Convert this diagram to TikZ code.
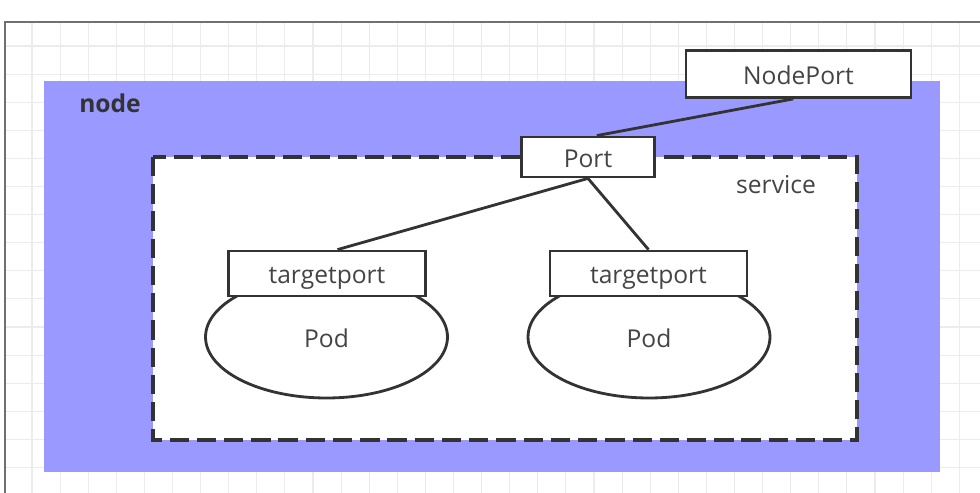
\documentclass[tikz,border=0pt]{standalone}
\usepackage{fontspec}
\setmainfont{Open Sans}
\usetikzlibrary{positioning}
\usetikzlibrary{shapes.geometric}
\definecolor{nodeblue}{HTML}{9999FF}
\definecolor{gridgray}{HTML}{ECECEC}
\definecolor{framegray}{HTML}{707070}
\definecolor{linegray}{HTML}{333333}
\definecolor{textgray}{HTML}{444444}
\tikzset{portbox/.style = {draw=linegray, line width=1.6pt, fill=white,
                           text=textgray, inner sep=0pt,
                           text height=11.5pt, text depth=0pt,
                           font=\fontsize{14}{16}\selectfont},
         podshape/.style = {ellipse, draw=linegray, line width=1.6pt, fill=white,
                            text=textgray, inner sep=0pt,
                            text height=11.5pt, text depth=0pt,
                            minimum width=4.84cm, minimum height=2.44cm,
                            font=\fontsize{14}{16}\selectfont},
         link/.style = {draw=linegray, line width=1.6pt}}

\begin{document}
\begin{tikzpicture}[x=0.02cm, y=-0.02cm]
    \useasboundingbox (0, 0) rectangle (980, 493);
    \foreach \gx in {0,...,33}
      \draw [gridgray, line width=0.6pt] (32 + 28.1*\gx, 22) -- (32 + 28.1*\gx, 493);
    \foreach \gy in {0,...,16}
      \draw [gridgray, line width=0.6pt] (5, 46 + 28.1*\gy) -- (980, 46 + 28.1*\gy);
    \draw [framegray, line width=1.1pt] (5, 493) -- (5, 22) -- (980, 22);

    \fill [nodeblue] (44, 81) rectangle (940, 472);
    \node [text=linegray, font=\fontsize{14}{16}\selectfont\bfseries] (nodelabel) at (110, 103) {node};
    \draw [linegray, fill=white, line width=2.1pt, dash pattern=on 11pt off 4.5pt]
      (153, 157) rectangle (857, 440);
    \node [text=textgray, font=\fontsize{14}{16}\selectfont] (servicelabel) at (776, 185) {service};

    \node [portbox, minimum width=4.5cm, minimum height=0.94cm] (nodeport) at (798.5, 74) {NodePort};
    \node [portbox, minimum width=2.66cm, minimum height=0.8cm] (port) at (588, 157) {Port};

    \node [podshape] (pod1) at (326.5, 337) {Pod};
    \node [podshape] (pod2) at (649, 337) {Pod};
    \node [portbox, minimum width=3.94cm, minimum height=0.9cm] (target1) at (327, 273.5) {targetport};
    \node [portbox, minimum width=3.94cm, minimum height=0.9cm] (target2) at (648.5, 273.5) {targetport};

    \draw [link] ([xshift=-3] nodeport.south) -- ([xshift=5] port.north);
    \draw [link] (port.south) -- ([xshift=6] target1.north);
    \draw [link] (port.south) -- (target2.north);
  \end{tikzpicture}
\end{document}
